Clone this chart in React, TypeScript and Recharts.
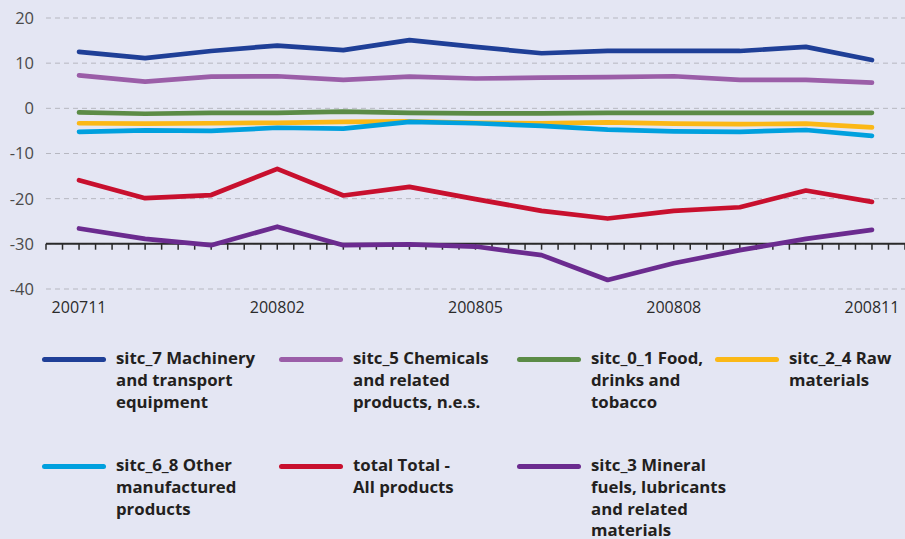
import React from 'react';
import { LineChart, Line, XAxis, YAxis, CartesianGrid, ReferenceLine } from 'recharts';

const months = ['200711', '200712', '200801', '200802', '200803', '200804', '200805', '200806', '200807', '200808', '200809', '200810', '200811'];
const xTickIdx = [0, 3, 6, 9, 12];
const yTicks = [-40, -30, -20, -10, 0, 10, 20];

const sitc7 = [12.5, 11.1, 12.7, 13.9, 12.9, 15.1, 13.6, 12.2, 12.7, 12.7, 12.7, 13.6, 10.7];
const sitc5 = [7.3, 5.9, 7.0, 7.1, 6.3, 7.0, 6.6, 6.8, 6.9, 7.1, 6.3, 6.3, 5.7];
const sitc01 = [-0.9, -1.2, -1.0, -1.0, -0.75, -1.0, -1.1, -1.1, -1.0, -1.0, -1.0, -1.0, -1.0];
const sitc24 = [-3.3, -3.4, -3.3, -3.2, -3.0, -2.9, -3.2, -3.3, -3.1, -3.4, -3.5, -3.4, -4.2];
const sitc68 = [-5.2, -4.9, -5.0, -4.3, -4.5, -3.0, -3.3, -3.9, -4.7, -5.1, -5.2, -4.8, -6.1];
const total = [-15.9, -19.9, -19.2, -13.4, -19.3, -17.4, -20.1, -22.7, -24.4, -22.7, -21.9, -18.2, -20.7];
const sitc3 = [-26.6, -28.9, -30.3, -26.2, -30.3, -30.1, -30.6, -32.5, -38.0, -34.3, -31.4, -28.9, -26.9];

const series = [
  { key: 'sitc7', values: sitc7, color: '#1f3f97', lines: ['sitc_7 Machinery', 'and transport', 'equipment'] },
  { key: 'sitc5', values: sitc5, color: '#9b5ea8', lines: ['sitc_5 Chemicals', 'and related', 'products, n.e.s.'] },
  { key: 'sitc01', values: sitc01, color: '#5b8b46', lines: ['sitc_0_1 Food,', 'drinks and', 'tobacco'] },
  { key: 'sitc24', values: sitc24, color: '#fbb816', lines: ['sitc_2_4 Raw', 'materials'] },
  { key: 'sitc68', values: sitc68, color: '#00a0de', lines: ['sitc_6_8 Other', 'manufactured', 'products'] },
  { key: 'total', values: total, color: '#c8102e', lines: ['total Total -', 'All products'] },
  { key: 'sitc3', values: sitc3, color: '#6b2b8f', lines: ['sitc_3 Mineral', 'fuels, lubricants', 'and related', 'materials'] },
];

const data = months.map((m, i) => {
  const row: Record<string, number | string> = { idx: i, month: m };
  series.forEach((s) => { row[s.key] = s.values[i]; });
  return row;
});

// minor tick positions on the axis line (4 per month)
const minorTicks = Array.from({ length: 53 }, (_, k) => -0.5 + k * 0.25);

const legendCols = [42, 279, 517, 715];
const legendRows = [347, 454];

export default function App() {
  return (
    <div style={{ position: 'fixed', left: 0, top: 0, width: 905, height: 539, background: '#e4e6f3', fontFamily: '"Open Sans", sans-serif', overflow: 'hidden' }}>
      <LineChart width={905} height={320} data={data} margin={{ top: 18, right: 0, bottom: 0, left: 0 }}>
        <CartesianGrid vertical={false} stroke="#b6b7c0" strokeDasharray="5 4" />
        <XAxis
          dataKey="idx"
          type="number"
          domain={[-0.5, 12.5]}
          ticks={xTickIdx}
          interval={0}
          tickFormatter={(v: number) => months[v]}
          axisLine={false}
          tickLine={false}
          tickSize={0}
          tickMargin={13}
          height={31}
          tick={{ fill: '#2b2b2b', fontSize: 16 }}
        />
        <YAxis
          domain={[-40, 20]}
          ticks={yTicks}
          interval={0}
          axisLine={false}
          tickLine={false}
          tickSize={0}
          tickMargin={12}
          width={46}
          tick={{ fill: '#4a4a4a', fontSize: 16.5 }}
        />
        <ReferenceLine y={-30} stroke="#2a2a2a" strokeWidth={2} />
        {minorTicks.map((t) => (
          <ReferenceLine key={t} segment={[{ x: t, y: -30 }, { x: t, y: -31.3 }]} stroke="#2a2a2a" strokeWidth={1.5} />
        ))}
        {series.map((s) => (
          <Line
            key={s.key}
            dataKey={s.key}
            stroke={s.color}
            strokeWidth={4.7}
            strokeLinecap="round"
            strokeLinejoin="round"
            dot={false}
            activeDot={false}
            isAnimationActive={false}
            type="linear"
          />
        ))}
      </LineChart>
      {series.map((s, i) => {
        const col = i % 4;
        const row = Math.floor(i / 4);
        return (
          <div key={s.key} style={{ position: 'absolute', left: legendCols[col], top: legendRows[row], display: 'flex', alignItems: 'flex-start' }}>
            <div style={{ width: 64, height: 5, borderRadius: 3, background: s.color, marginTop: 9.5, flex: 'none' }} />
            <div style={{ marginLeft: 10, fontWeight: 700, fontSize: 16.8, lineHeight: '21.8px', color: '#231f20', whiteSpace: 'nowrap' }}>
              {s.lines.map((l, j) => (<div key={j}>{l}</div>))}
            </div>
          </div>
        );
      })}
    </div>
  );
}
